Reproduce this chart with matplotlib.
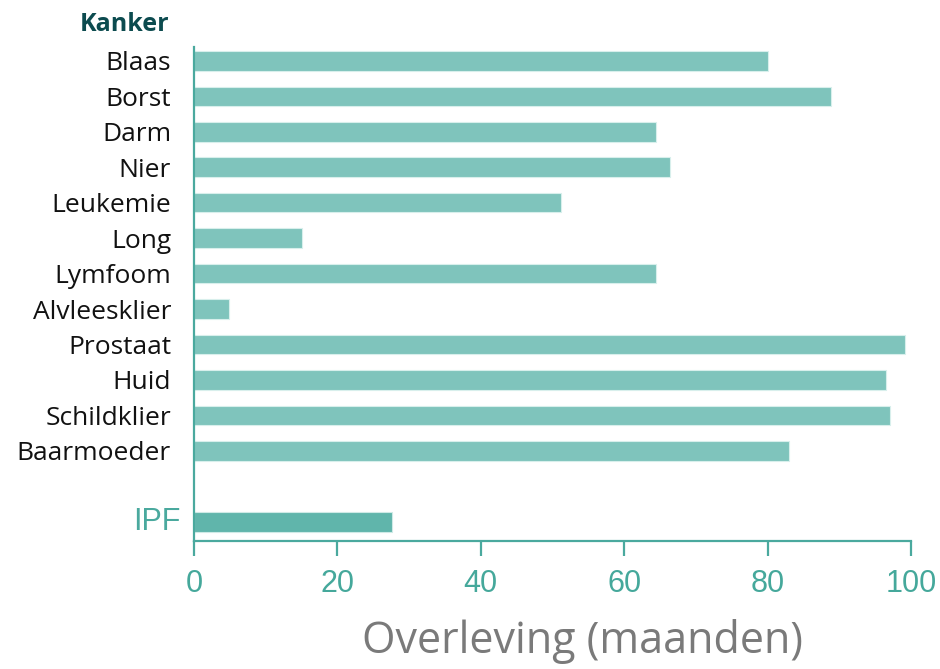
import matplotlib
matplotlib.use("Agg")
import matplotlib.pyplot as plt
from matplotlib.transforms import blended_transform_factory

categories = ["Blaas", "Borst", "Darm", "Nier", "Leukemie", "Long", "Lymfoom",
              "Alvleesklier", "Prostaat", "Huid", "Schildklier", "Baarmoeder"]
values = [80.0, 88.8, 64.5, 66.4, 51.2, 15.1, 64.5, 4.9, 99.1, 96.5, 97.1, 83.0]
ipf_label = "IPF"
ipf_value = 27.6
xticks = [0, 20, 40, 60, 80, 100]
xlabel = "Overleving (maanden)"
group_title = "Kanker"

BAR = "#7fc4bc"
IPF_BAR = "#60b5ab"
TEAL = "#4aa99e"
TICK_TXT = "#45a89b"
DARK = "#0c4b4f"

fig = plt.figure(figsize=(9.4, 6.69), dpi=100)
ax = fig.add_axes([194/940, 1-541/669, (911-194)/940, (541-47)/669])

pos = list(range(len(categories)))
ax.barh(pos, values, height=0.55, color=BAR, edgecolor="#d8efec", linewidth=0.8)
ipf_pos = len(categories) + 1
ax.barh([ipf_pos], [ipf_value], height=0.55, color=IPF_BAR, edgecolor="#cfeae6", linewidth=0.8)

ax.set_xlim(0, 100)
ax.set_ylim(ipf_pos + 0.54, -0.39)

for s in ["top", "right"]:
    ax.spines[s].set_visible(False)
for s in ["left", "bottom"]:
    ax.spines[s].set_color(TEAL)
    ax.spines[s].set_linewidth(1.6)

ax.set_yticks(pos)
ax.set_yticklabels(categories, fontsize=19, family=["Open Sans", "DejaVu Sans"], color="#111111")
ax.tick_params(axis="y", length=0, pad=16.5)

ax.set_xticks(xticks)
ax.set_xticklabels([str(t) for t in xticks], fontsize=22, family=["Liberation Sans", "DejaVu Sans"], color=TICK_TXT)
ax.tick_params(axis="x", length=11, width=1.6, color=TEAL, pad=9.5)

trans = blended_transform_factory(ax.transAxes, ax.transData)
ax.text(-14/717, ipf_pos, ipf_label, transform=trans, ha="right", va="center",
        fontsize=22, family=["Liberation Sans", "DejaVu Sans"], color=TEAL)
ax.text(-25/717, -1.03, group_title, transform=trans, ha="right", va="center",
        fontsize=18, fontweight="bold", family=["Open Sans", "DejaVu Sans"], color=DARK, clip_on=False)

fig.text(583/940, 1-641/669, xlabel, ha="center", va="center", fontsize=31,
         family=["Open Sans", "DejaVu Sans"], color="#7a7a7a")

fig.savefig("out.png", dpi=100, facecolor="white")
